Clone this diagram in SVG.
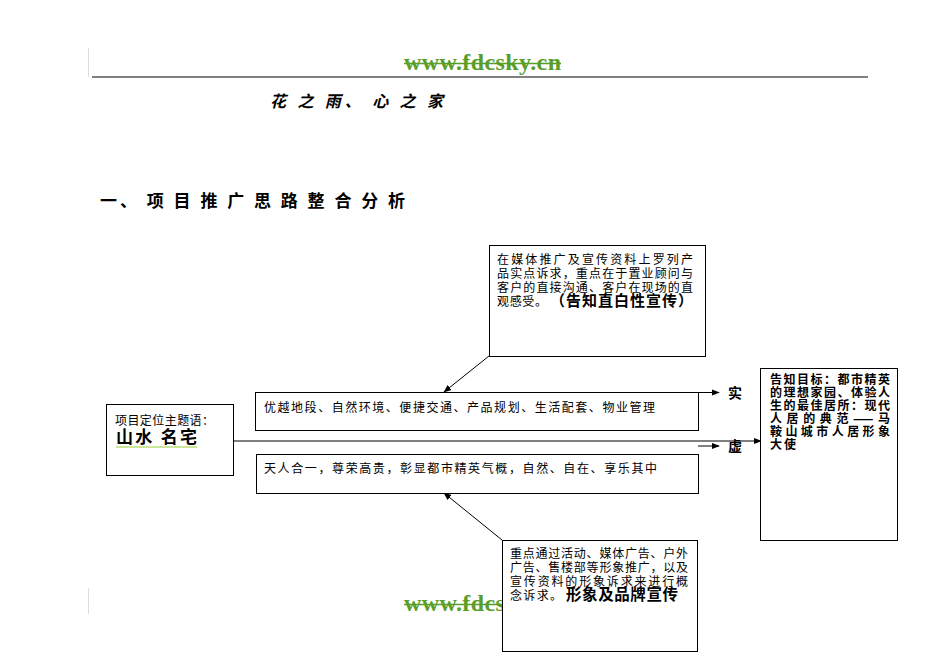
<svg xmlns="http://www.w3.org/2000/svg" width="950" height="672" viewBox="0 0 950 672">
<style>
.box{fill:#fff;stroke:#000;stroke-width:1}
.t{font-family:"Noto Sans CJK SC","Noto Sans CJK JP",sans-serif;font-size:12px;fill:#000}
.b{font-family:"Noto Sans CJK SC",sans-serif;font-weight:bold;fill:#000}
.g{font-family:"Noto Sans CJK SC",sans-serif;font-weight:600;font-size:12px;fill:#000}
.url{font-family:"Liberation Serif",serif;font-weight:bold;font-size:24px;fill:#5a9e2a}
.ln{stroke:#000;stroke-width:1;fill:none}
</style>
<defs>
<marker id="ah" viewBox="0 0 10 10" refX="9" refY="5" markerWidth="8" markerHeight="8" orient="auto" markerUnits="userSpaceOnUse">
<path d="M0,1 L10,5 L0,9 Z" fill="#000"/>
</marker>
</defs>
<rect width="950" height="672" fill="#fff"/>
<g id="header">
<line x1="88.5" y1="48" x2="88.5" y2="77" stroke="#ddd" stroke-width="1"/>
<text class="url" x="404" y="70" textLength="157">www.fdcsky.cn</text>
<line x1="404" y1="63.5" x2="561" y2="63.5" stroke="#5a9e2a" stroke-width="1.5"/>
<line x1="92" y1="77" x2="868" y2="77" stroke="#808080" stroke-width="2"/>
<text class="b" x="270" y="107" font-size="16" font-style="italic" textLength="173">花 之 雨、 心 之 家</text>
<text class="b" x="100" y="207" font-size="17" textLength="305">一、 项 目 推 广 思 路 整 合 分 析</text>
</g>
<g id="footer">
<line x1="88.5" y1="588" x2="88.5" y2="614" stroke="#ddd" stroke-width="1"/>
<text class="url" x="404" y="611" textLength="157">www.fdcsky.cn</text>
<line x1="404" y1="604.5" x2="561" y2="604.5" stroke="#5a9e2a" stroke-width="1.5"/>
</g>
<g id="connectors">
<line class="ln" x1="230" y1="441" x2="761" y2="441" marker-end="url(#ah)"/>
<line class="ln" x1="489" y1="356" x2="444" y2="392" marker-end="url(#ah)"/>
<line class="ln" x1="502" y1="540" x2="444" y2="493" marker-end="url(#ah)"/>
<line class="ln" x1="698" y1="392.5" x2="719" y2="392.5" marker-end="url(#ah)"/>
<line class="ln" x1="698" y1="446" x2="719" y2="446" marker-end="url(#ah)"/>
</g>
<g id="top-note">
<rect class="box" x="489.5" y="245.5" width="216" height="111"/>
<text class="t" x="497" y="264" textLength="196">在媒体推广及宣传资料上罗列产</text>
<text class="t" x="497" y="278" textLength="196">品实点诉求，重点在于置业顾问与</text>
<text class="t" x="497" y="292" textLength="196">客户的直接沟通、客户在现场的直</text>
<text class="t" x="497" y="306" textLength="50">观感受。</text>
<text class="b" x="550" y="306" font-size="15" textLength="143">（告知直白性宣传）</text>
</g>
<g id="theme">
<rect class="box" x="106.5" y="404.5" width="127" height="71"/>
<text class="t" x="115" y="425" font-size="12.5" textLength="99">项目定位主题语：</text>
<text class="b" x="116" y="443" font-size="17" textLength="81">山水  名宅</text>
<line x1="116" y1="447" x2="197" y2="447" stroke="#9acd32" stroke-width="1"/>
</g>
<g id="real">
<rect class="box" x="255.5" y="392.5" width="443" height="38"/>
<text class="t" x="264" y="412" font-size="13" textLength="391">优越地段、自然环境、便捷交通、产品规划、生活配套、物业管理</text>
</g>
<g id="virtual">
<rect class="box" x="256.5" y="454.5" width="442" height="39"/>
<text class="t" x="264" y="473" font-size="13" textLength="393">天人合一，尊荣高贵，彰显都市精英气概，自然、自在、享乐其中</text>
</g>
<g id="labels">
<clipPath id="c1"><rect x="724" y="383" width="24" height="18"/></clipPath>
<clipPath id="c2"><rect x="724" y="436" width="24" height="18"/></clipPath>
<text class="b" x="728" y="398" font-size="14" clip-path="url(#c1)">实</text>
<text class="b" x="728" y="451" font-size="14" clip-path="url(#c2)">虚</text>
</g>
<g id="goal">
<rect class="box" x="760.5" y="368.5" width="137" height="172"/>
<text class="g" x="770" y="384" textLength="120">告知目标：都市精英</text>
<text class="g" x="770" y="397" textLength="120">的理想家园、体验人</text>
<text class="g" x="770" y="410" textLength="120">生的最佳居所：现代</text>
<text class="g" x="770" y="423" textLength="120">人居的典范——马</text>
<text class="g" x="770" y="436" textLength="120">鞍山城市人居形象</text>
<text class="g" x="770" y="449" textLength="26">大使</text>
</g>
<g id="bottom-note">
<rect class="box" x="502.5" y="540.5" width="195" height="111"/>
<text class="t" x="510" y="558" textLength="178">重点通过活动、媒体广告、户外</text>
<text class="t" x="510" y="572" textLength="178">广告、售楼部等形象推广，以及</text>
<text class="t" x="510" y="586" textLength="178">宣传资料的形象诉求来进行概</text>
<text class="t" x="510" y="600" textLength="52">念诉求。</text>
<text class="b" x="566" y="600" font-size="15.5" textLength="112">形象及品牌宣传</text>
</g>
</svg>
